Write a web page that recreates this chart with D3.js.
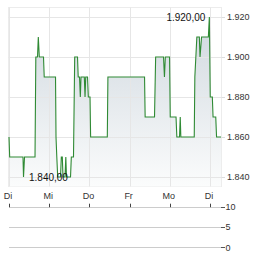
<!DOCTYPE html>
<html>
<head>
<meta charset="utf-8">
<script src="https://cdn.jsdelivr.net/npm/d3@7"></script>
<style>
  body { margin: 0; background: #fff; }
  text { font-family: "Liberation Sans", Arial, sans-serif; }
</style>
</head>
<body>
<div id="chart"></div>
<script>
// days since first tick (trading days), and prices
const times = [
  0, 0.017, 0.348, 0.361, 0.386, 0.647, 0.667, 0.709, 0.729, 0.754, 0.858, 0.876,
  1.157, 1.169, 1.189, 1.211, 1.281, 1.301, 1.326, 1.343, 1.393, 1.413, 1.43, 1.53,
  1.55, 1.604, 1.634, 1.704, 1.721, 1.754, 1.774, 1.791, 1.873, 1.891, 1.908, 1.953,
  1.973, 2.015, 2.03, 2.445, 2.46, 3.371, 3.386, 3.619, 3.647, 3.843, 3.866, 3.888,
  3.993, 4.01, 4.154, 4.174, 4.241, 4.259, 4.274, 4.607, 4.622, 4.672, 4.734, 4.751,
  4.789, 4.958, 4.983, 5.005, 5.057, 5.075, 5.142, 5.162, 5.274
];
const prices = [
  1860, 1850, 1850, 1840, 1850, 1850, 1900, 1900, 1910, 1900, 1900, 1890,
  1890, 1860, 1850, 1840, 1840, 1850, 1850, 1840, 1840, 1850, 1840, 1840,
  1850, 1850, 1900, 1900, 1890, 1890, 1880, 1890, 1890, 1880, 1890, 1890,
  1880, 1880, 1860, 1860, 1890, 1890, 1870, 1870, 1900, 1900, 1890, 1900,
  1900, 1870, 1870, 1860, 1860, 1870, 1860, 1860, 1890, 1910, 1910, 1900,
  1910, 1910, 1920, 1880, 1880, 1870, 1870, 1860, 1860
];
const dayLabels = ["Di", "Mi", "Do", "Fr", "Mo", "Di"];
const priceTicks = [1840, 1860, 1880, 1900, 1920];
const volumeTicks = [0, 5, 10];

const de = d3.formatLocale({ decimal: ",", thousands: ".", grouping: [3], currency: ["", " €"] });
const fmtAxis = de.format(",.0f");
const fmtValue = de.format(",.2f");

const data = times.map((t, i) => ({ t, v: prices[i] }));

const svg = d3
  .select("#chart")
  .append("svg")
  .attr("width", 264)
  .attr("height", 255);

const plot = { left: 8.5, right: 221.5, top: 7.5, bottom: 186.5 };

const xScale = d3.scaleLinear().domain([0, 5.28]).range([9, 221.3]);
const yScale = d3.scaleLinear().domain([1840, 1920]).range([177, 17]);
const vScale = d3.scaleLinear().domain([0, 10]).range([247.3, 206.7]);

const grad = svg
  .append("defs")
  .append("linearGradient")
  .attr("id", "fill")
  .attr("gradientUnits", "userSpaceOnUse")
  .attr("x1", 0).attr("x2", 0)
  .attr("y1", yScale(1920)).attr("y2", plot.bottom);
grad.append("stop").attr("offset", 0).attr("stop-color", "#d0d8df");
grad.append("stop").attr("offset", 1).attr("stop-color", "#fbfcfc");

// plot frame
svg
  .append("rect")
  .attr("x", plot.left)
  .attr("y", plot.top)
  .attr("width", plot.right - plot.left)
  .attr("height", plot.bottom - plot.top)
  .style("fill", "#fff")
  .style("stroke", "#ececec");

// area + line
svg
  .append("path")
  .datum(data)
  .attr("d", d3.area().x(d => xScale(d.t)).y0(plot.bottom).y1(d => yScale(d.v)))
  .style("fill", "url(#fill)");

// grid
svg
  .append("g")
  .selectAll("line")
  .data(priceTicks)
  .join("line")
  .attr("x1", plot.left)
  .attr("x2", plot.right)
  .attr("y1", d => Math.round(yScale(d)) + 0.5)
  .attr("y2", d => Math.round(yScale(d)) + 0.5)
  .style("stroke", "#e6e6e6");

svg
  .append("g")
  .selectAll("line")
  .data(dayLabels)
  .join("line")
  .attr("x1", (d, i) => Math.round(xScale(i)) + 0.5)
  .attr("x2", (d, i) => Math.round(xScale(i)) + 0.5)
  .attr("y1", plot.top)
  .attr("y2", plot.bottom)
  .style("stroke", "#e6e6e6");

svg
  .append("path")
  .datum(data)
  .attr("d", d3.line().x(d => xScale(d.t)).y(d => yScale(d.v)))
  .style("fill", "none")
  .style("stroke", "#2f8a34")
  .style("stroke-width", 1.1);

// right price axis
const yAxis = svg.append("g");
yAxis
  .selectAll("line")
  .data(priceTicks)
  .join("line")
  .attr("x1", plot.right)
  .attr("x2", 225)
  .attr("y1", d => Math.round(yScale(d)) + 0.5)
  .attr("y2", d => Math.round(yScale(d)) + 0.5)
  .style("stroke", "#ddd");
yAxis
  .selectAll("text")
  .data(priceTicks)
  .join("text")
  .attr("x", 227)
  .attr("y", d => yScale(d) + 3.3)
  .style("font-size", "9px")
  .style("fill", "#333")
  .text(fmtAxis);

// day labels
svg
  .append("g")
  .selectAll("text")
  .data(dayLabels)
  .join("text")
  .attr("x", (d, i) => xScale(i) - 1)
  .attr("y", 198.5)
  .attr("text-anchor", "middle")
  .style("font-size", "9px")
  .style("fill", "#333")
  .text(d => d);

// high / low annotations
const hi = data.reduce((a, b) => (b.v > a.v ? b : a));
const lo = data.reduce((a, b) => (b.v < a.v ? b : a));
svg
  .append("text")
  .attr("x", xScale(hi.t) - 4)
  .attr("y", yScale(hi.v) + 3.5)
  .attr("text-anchor", "end")
  .style("font-size", "10px")
  .style("fill", "#111")
  .text(fmtValue(hi.v));
svg
  .append("text")
  .attr("x", xScale(lo.t) + 5.5)
  .attr("y", yScale(lo.v) + 3.5)
  .style("font-size", "10px")
  .style("fill", "#111")
  .text(fmtValue(lo.v));

// volume panel
const vol = svg.append("g");
vol
  .selectAll("line.grid")
  .data(volumeTicks)
  .join("line")
  .attr("class", "grid")
  .attr("x1", 9)
  .attr("x2", 221)
  .attr("y1", d => Math.round(vScale(d)) + 0.5)
  .attr("y2", d => Math.round(vScale(d)) + 0.5)
  .style("stroke", "#ccc");
vol
  .selectAll("line.tick")
  .data(volumeTicks)
  .join("line")
  .attr("class", "tick")
  .attr("x1", 221)
  .attr("x2", 225)
  .attr("y1", d => Math.round(vScale(d)) + 0.5)
  .attr("y2", d => Math.round(vScale(d)) + 0.5)
  .style("stroke", "#555");
vol
  .selectAll("line.day")
  .data(dayLabels)
  .join("line")
  .attr("class", "day")
  .attr("x1", (d, i) => Math.round(xScale(i)) + 0.5)
  .attr("x2", (d, i) => Math.round(xScale(i)) + 0.5)
  .attr("y1", vScale(10) - 3)
  .attr("y2", vScale(10) + 0.5)
  .style("stroke", "#444");
vol
  .selectAll("text")
  .data(volumeTicks)
  .join("text")
  .attr("x", 225.5)
  .attr("y", d => vScale(d) + 3.3)
  .style("font-size", "9px")
  .style("fill", "#333")
  .text(d => d);
</script>
</body>
</html>
